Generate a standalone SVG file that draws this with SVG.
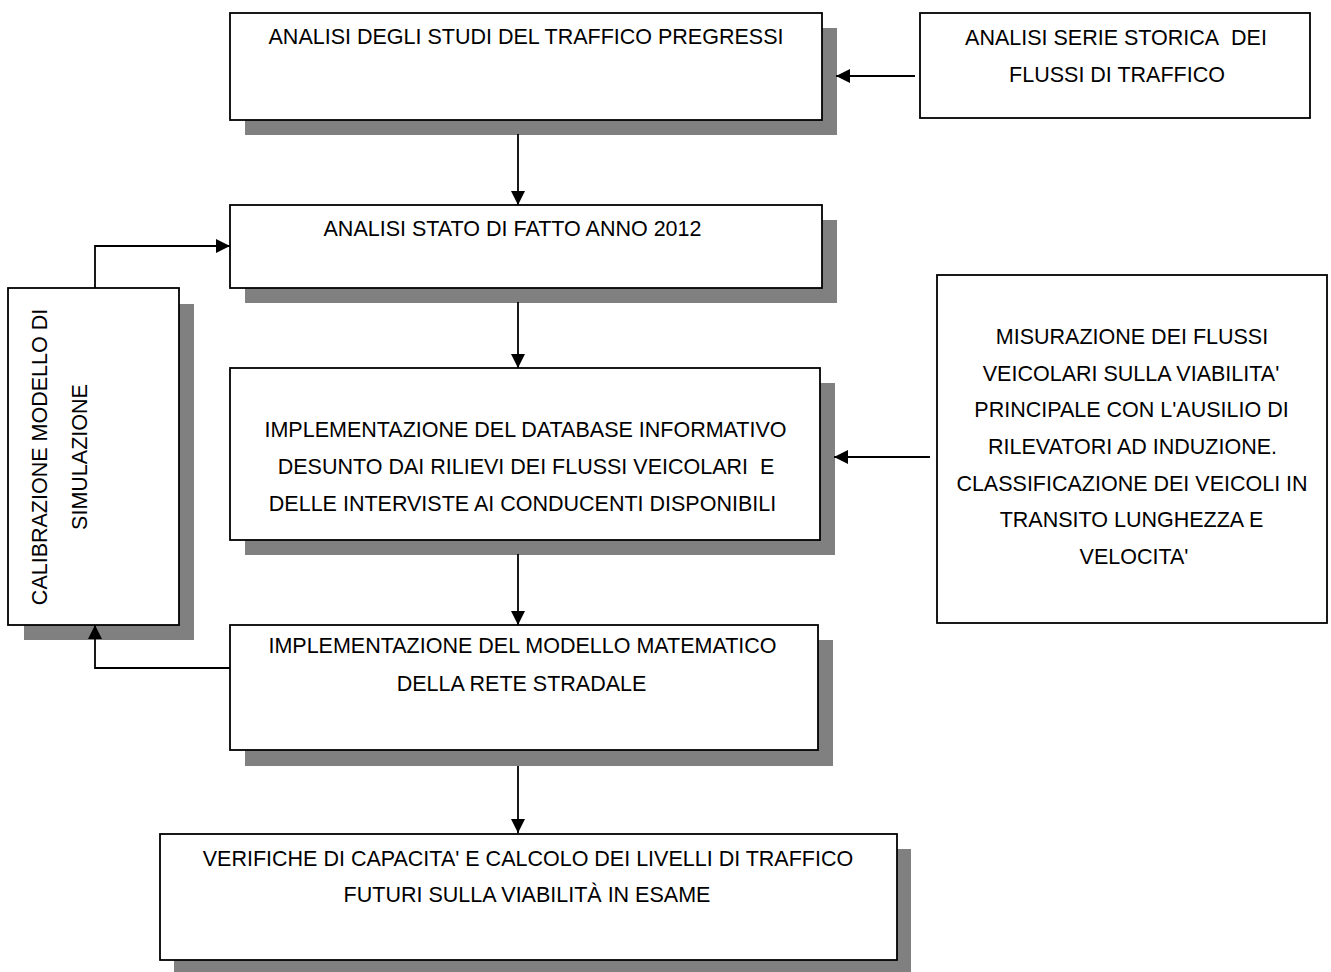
<svg xmlns="http://www.w3.org/2000/svg" width="1331" height="972" viewBox="0 0 1331 972">
<style>
.box{fill:#fff;stroke:#000;stroke-width:1.8}
.sh{fill:#808080}
.t{font-family:"Liberation Sans",Arial,sans-serif;font-size:21.5px;fill:#000;text-anchor:middle}
.c{fill:none;stroke:#000;stroke-width:1.8}
</style>
<defs>
<marker id="ah" viewBox="0 0 10 10" refX="10" refY="5" markerWidth="14" markerHeight="14" markerUnits="userSpaceOnUse" orient="auto">
<path d="M0,0 L10,5 L0,10 Z" fill="#000"/>
</marker>
</defs>
<rect width="1331" height="972" fill="#fff"/>
<g id="n1">
<rect class="sh" x="245" y="28" width="592" height="107"/>
<rect class="box" x="230" y="13" width="592" height="107"/>
<text class="t" x="526" y="44">ANALISI DEGLI STUDI DEL TRAFFICO PREGRESSI</text>
</g>
<g id="n2">
<rect class="box" x="920" y="13" width="390" height="105"/>
<text class="t" x="1116" y="45">ANALISI SERIE STORICA&#160; DEI</text>
<text class="t" x="1117" y="82">FLUSSI DI TRAFFICO</text>
</g>
<g id="n3">
<rect class="sh" x="245" y="220" width="592" height="83"/>
<rect class="box" x="230" y="205" width="592" height="83"/>
<text class="t" x="512.5" y="236">ANALISI STATO DI FATTO ANNO 2012</text>
</g>
<g id="n4">
<rect class="sh" x="245" y="383" width="590" height="172"/>
<rect class="box" x="230" y="368" width="590" height="172"/>
<text class="t" x="525.5" y="437">IMPLEMENTAZIONE DEL DATABASE INFORMATIVO</text>
<text class="t" x="526" y="474">DESUNTO DAI RILIEVI DEI FLUSSI VEICOLARI&#160; E</text>
<text class="t" x="522.5" y="511">DELLE INTERVISTE AI CONDUCENTI DISPONIBILI</text>
</g>
<g id="n5">
<rect class="box" x="937" y="275" width="390" height="348"/>
<text class="t" x="1132" y="344">MISURAZIONE DEI FLUSSI</text>
<text class="t" x="1131" y="381">VEICOLARI SULLA VIABILITA'</text>
<text class="t" x="1131.5" y="417">PRINCIPALE CON L'AUSILIO DI</text>
<text class="t" x="1132.5" y="454">RILEVATORI AD INDUZIONE.</text>
<text class="t" x="1132" y="491">CLASSIFICAZIONE DEI VEICOLI IN</text>
<text class="t" x="1131.5" y="527">TRANSITO LUNGHEZZA E</text>
<text class="t" x="1134" y="564">VELOCITA'</text>
</g>
<g id="n6">
<rect class="sh" x="24" y="304" width="170" height="336"/>
<rect class="box" x="8" y="288" width="171" height="337"/>
<text class="t" transform="translate(47,457) rotate(-90)">CALIBRAZIONE MODELLO DI</text>
<text class="t" transform="translate(87,457) rotate(-90)">SIMULAZIONE</text>
</g>
<g id="n7">
<rect class="sh" x="245" y="640" width="588" height="126"/>
<rect class="box" x="230" y="625" width="588" height="125"/>
<text class="t" x="522.5" y="653">IMPLEMENTAZIONE DEL MODELLO MATEMATICO</text>
<text class="t" x="521.5" y="691">DELLA RETE STRADALE</text>
</g>
<g id="n8">
<rect class="sh" x="174" y="849" width="737" height="123"/>
<rect class="box" x="160" y="834" width="737" height="126"/>
<text class="t" x="528" y="866">VERIFICHE DI CAPACITA' E CALCOLO DEI LIVELLI DI TRAFFICO</text>
<text class="t" x="527" y="902">FUTURI SULLA VIABILITÀ IN ESAME</text>
</g>
<g id="connectors">
<path class="c" d="M915,76 H836" marker-end="url(#ah)"/>
<path class="c" d="M518,134 V205" marker-end="url(#ah)"/>
<path class="c" d="M518,302 V368" marker-end="url(#ah)"/>
<path class="c" d="M518,554 V625" marker-end="url(#ah)"/>
<path class="c" d="M518,766 V833" marker-end="url(#ah)"/>
<path class="c" d="M930,457 H834" marker-end="url(#ah)"/>
<path class="c" d="M230,668 H95 V625" marker-end="url(#ah)"/>
<path class="c" d="M95,288 V246 H230" marker-end="url(#ah)"/>
</g>
</svg>
